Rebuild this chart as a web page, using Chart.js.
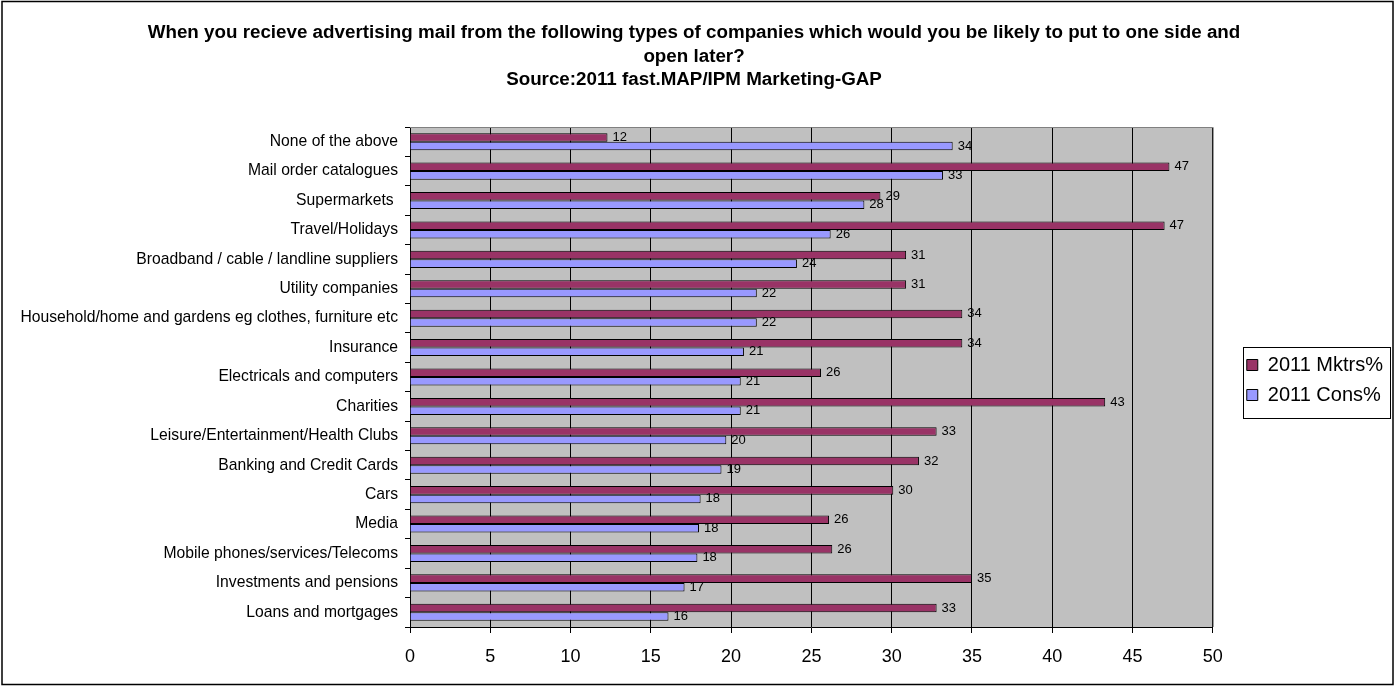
<!DOCTYPE html>
<html>
<head>
<meta charset="utf-8">
<script src="https://cdn.jsdelivr.net/npm/chart.js@4/dist/chart.umd.min.js"></script>
<style>
  body { margin: 0; background: #fff; }
  canvas { display: block; }
</style>
</head>
<body>
<canvas id="mailChart" width="1400" height="686"></canvas>
<script>
// Advertising mail put aside to open later, 2011

const categories = [
  "None of the above",
  "Mail order catalogues",
  "Supermarkets ",
  "Travel/Holidays",
  "Broadband / cable / landline suppliers",
  "Utility companies",
  "Household/home and gardens eg clothes, furniture etc",
  "Insurance",
  "Electricals and computers",
  "Charities",
  "Leisure/Entertainment/Health Clubs",
  "Banking and Credit Cards",
  "Cars",
  "Media",
  "Mobile phones/services/Telecoms",
  "Investments and pensions",
  "Loans and mortgages",
];

const mktrs = [12.3, 47.3, 29.3, 47.0, 30.9, 30.9, 34.4, 34.4, 25.6, 43.3, 32.8, 31.7, 30.1, 26.1, 26.3, 35.0, 32.8];
const cons = [33.8, 33.2, 28.3, 26.2, 24.1, 21.6, 21.6, 20.8, 20.6, 20.6, 19.7, 19.4, 18.1, 18.0, 17.9, 17.1, 16.1];

const seriesNames = ["2011 Mktrs%", "2011 Cons%"];
const xMin = 0;
const xMax = 50;
const xStep = 5;

const titleLines = [
  "When you recieve advertising mail from the following types of companies which would you be likely to put to one side and",
  "open later?",
  "Source:2011 fast.MAP/IPM Marketing-GAP",
];

const FONT = "'Liberation Sans', Arial, sans-serif";

// grey plot area, outer frame, legend frame
const framePlugin = {
  id: "frame",
  afterLayout(chart) {
    // leave a gap between the plot and the legend
    chart.legend.left += 24;
    chart.legend.right += 24;
    chart.legend.top += 3;
    chart.legend.bottom += 3;
    // centre the title on the whole page
    chart.titleBlock.left += 9.5;
    chart.titleBlock.right += 9.5;
  },
  beforeDraw(chart) {
    const { ctx, chartArea: a } = chart;
    ctx.save();
    ctx.fillStyle = "#fff";
    ctx.fillRect(0, 0, chart.width, chart.height);
    ctx.fillStyle = "#c0c0c0";
    ctx.fillRect(a.left, a.top, a.right - a.left, a.bottom - a.top);
    ctx.restore();
  },
  beforeDatasetsDraw(chart) {
    const { ctx, chartArea: a } = chart;
    ctx.save();
    ctx.strokeStyle = "#808080";
    ctx.lineWidth = 1;
    ctx.beginPath();
    ctx.moveTo(a.left, a.top + 0.5);
    ctx.lineTo(a.right + 0.5, a.top + 0.5);
    ctx.lineTo(a.right + 0.5, a.bottom);
    ctx.stroke();
    ctx.restore();
  },
  afterDraw(chart) {
    const { ctx } = chart;
    ctx.save();
    ctx.strokeStyle = "#000";
    ctx.lineWidth = 1.5;
    ctx.strokeRect(2, 1.5, 1391, 683);

    const boxes = chart.legend.legendHitBoxes;
    if (boxes.length) {
      const left = Math.min(...boxes.map((b) => b.left)) - 4;
      const top = Math.min(...boxes.map((b) => b.top)) - 8;
      const right = Math.max(...boxes.map((b) => b.left + b.width)) + 7;
      const bottom = Math.max(...boxes.map((b) => b.top + b.height)) + 13;
      ctx.lineWidth = 1;
      ctx.strokeRect(Math.round(left) + 0.5, Math.round(top) + 0.5, Math.round(right - left), Math.round(bottom - top));
    }
    ctx.restore();
  },
};

// value printed just past the end of each bar
const valueLabels = {
  id: "valueLabels",
  afterDatasetsDraw(chart) {
    const { ctx } = chart;
    ctx.save();
    ctx.font = "13px " + FONT;
    ctx.fillStyle = "#000";
    ctx.textAlign = "left";
    ctx.textBaseline = "middle";
    chart.data.datasets.forEach((ds, i) => {
      chart.getDatasetMeta(i).data.forEach((bar, j) => {
        ctx.fillText(Math.round(ds.data[j]), bar.x + 5, bar.y);
      });
    });
    ctx.restore();
  },
};

const ctx = document.getElementById("mailChart").getContext("2d");

new Chart(ctx, {
  type: "bar",
  data: {
    labels: categories,
    datasets: [
      {
        label: seriesNames[0],
        data: mktrs,
        backgroundColor: "#993366",
        borderColor: "#000",
        borderWidth: 1,
        categoryPercentage: 0.58,
        barPercentage: 1,
      },
      {
        label: seriesNames[1],
        data: cons,
        backgroundColor: "#9999ff",
        borderColor: "#000",
        borderWidth: 1,
        categoryPercentage: 0.58,
        barPercentage: 1,
      },
    ],
  },
  options: {
    indexAxis: "y",
    responsive: false,
    animation: false,
    devicePixelRatio: 1,
    layout: {
      padding: { left: 0, right: 31, top: 0, bottom: 0 },
    },
    scales: {
      x: {
        min: xMin,
        max: xMax,
        ticks: {
          stepSize: xStep,
          color: "#000",
          font: { family: FONT, size: 18 },
          padding: 13,
        },
        grid: {
          color: "#000",
          lineWidth: 1,
          tickLength: 6,
          drawTicks: true,
        },
        border: { display: true, color: "#000" },
        afterFit(scale) {
          scale.height = 59;
        },
      },
      y: {
        ticks: {
          color: "#000",
          font: { family: FONT, size: 15.7 },
          padding: 7,
          autoSkip: false,
        },
        grid: {
          drawOnChartArea: false,
          color: "#000",
          tickLength: 5,
          offset: true,
        },
        border: { display: true, color: "#000" },
        afterFit(scale) {
          scale.width = 410;
        },
      },
    },
    plugins: {
      title: {
        display: true,
        text: titleLines,
        color: "#000",
        font: { family: FONT, size: 18.8, weight: "bold", lineHeight: 1.25 },
        padding: { top: 21.5, bottom: 35 },
      },
      legend: {
        position: "right",
        fullSize: false,
        labels: {
          color: "#000",
          font: { family: FONT, size: 20 },
          boxWidth: 11,
          boxHeight: 11,
          padding: 10,
        },
      },
      tooltip: { enabled: false },
    },
  },
  plugins: [framePlugin, valueLabels],
});
</script>
</body>
</html>
